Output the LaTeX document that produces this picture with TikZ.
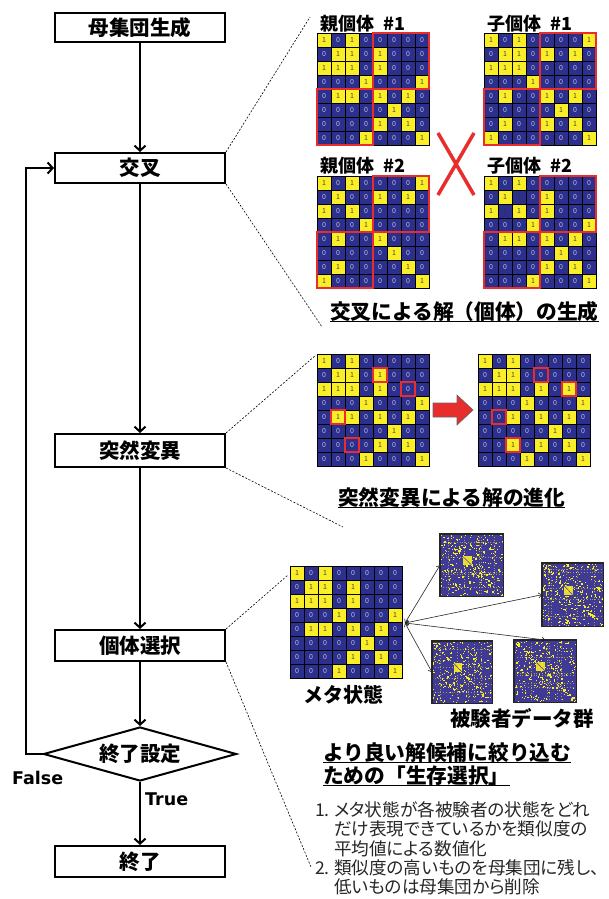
\documentclass[tikz,border=0pt]{standalone}
\usepackage{fontspec}
\setmainfont{Noto Sans CJK JP}
\newfontfamily\listfont{Noto Sans CJK JP}[RawFeature=+palt]
\newfontfamily\latinb{DejaVu Sans}
\usetikzlibrary{arrows.meta,shapes.geometric}
\definecolor{mblue}{RGB}{44,48,140}
\definecolor{sblue}{RGB}{62,58,150}
\definecolor{myel}{RGB}{250,238,40}
\definecolor{mred}{RGB}{232,45,45}
\definecolor{mgray}{RGB}{185,190,225}
\definecolor{mdark}{RGB}{70,70,45}
\tikzset{
  flowbox/.style={draw, line width=2pt, minimum width=170, minimum height=30, inner sep=0pt, fill=white,
    font=\bfseries\fontsize{20.5}{20.5}\selectfont},
  decision/.style={draw, line width=2pt, shape=diamond, aspect=3.5, minimum width=193, minimum height=54,
    inner sep=0pt, fill=white, font=\bfseries\fontsize{20.5}{20.5}\selectfont},
  flowarrow/.style={line width=2pt, -{Straight Barb[length=5pt,width=11pt]}},
  zoomline/.style={line width=0.6pt, dash pattern=on 2pt off 1.6pt},
  cellz/.style={rectangle, draw=black, line width=0.6pt, fill=mblue, minimum size=14, inner sep=0pt,
    text=mgray, font=\fontsize{7}{7}\selectfont},
  cello/.style={cellz, fill=myel, text=mdark},
  cellb/.style={cellz, text=black!80},
  redbox/.style={draw=mred, line width=2pt},
  lab/.style={anchor=base west, inner sep=0pt, font=\bfseries\fontsize{18}{18}\selectfont},
  captxt/.style={anchor=base west, inner sep=0pt, font=\bfseries\fontsize{20.7}{20.7}\selectfont},
  listtxt/.style={anchor=base west, inner sep=0pt, text=black!85, font=\listfont\fontsize{17.6}{17.6}\selectfont},
  metaarrow/.style={line width=0.6pt, black!85, {Straight Barb[length=3pt,width=5pt]}-{Straight Barb[length=3pt,width=5pt]}},
  subjbg/.style={rectangle, fill=sblue, inner sep=0pt, anchor=north west},
  ulinestyle/.style={line width=1.5pt}
}
\newcommand\drawgamat[4]{%
  \foreach \rowlist [count=\rr] in {#4} {%
    \foreach \val [count=\cc] in \rowlist {%
      \pgfmathsetmacro\gx{#2+(\cc-0.5)*14}%
      \pgfmathsetmacro\gy{#3+(\rr-0.5)*14}%
      \ifcase\val\relax
        \node[cellz] (#1-\rr-\cc) at (\gx,\gy) {0};%
      \or
        \node[cello] (#1-\rr-\cc) at (\gx,\gy) {1};%
      \or
        \node[cellb] (#1-\rr-\cc) at (\gx,\gy) {1};%
      \fi
    }%
  }%
}
\newcommand\subjimg[6]{%
  \node[subjbg, minimum width=#4, minimum height=#5] (#1) at (#2,#3) {};
  \begin{scope}
    \clip (#1.north west) rectangle (#1.south east);
    \pgfmathsetseed{#6}
    \foreach \k in {1,...,5}{%
      \pgfmathsetmacro\pp{0.1+0.8*rnd}%
      \draw[myel, opacity=0.55, line width=0.9pt, dash pattern=on 1pt off 1.8pt]
        ({#2+\pp*#4},#3) -- ({#2+\pp*#4},{#3+#5});
      \draw[myel, opacity=0.55, line width=0.9pt, dash pattern=on 1pt off 1.8pt]
        (#2,{#3+\pp*#5}) -- ({#2+#4},{#3+\pp*#5});
    }
    \foreach \k in {1,...,130}{%
      \pgfmathsetmacro\uu{rnd}\pgfmathsetmacro\vv{rnd}%
      \fill[myel] ({#2+\uu*#4},{#3+\vv*#5}) rectangle ++(1.2,1.2);
      \fill[myel] ({#2+\vv*#4},{#3+\uu*#5}) rectangle ++(1.2,1.2);
    }
    \foreach \k in {1,...,45}{%
      \pgfmathsetmacro\uu{rnd}\pgfmathsetmacro\dd{\uu+0.05*(rnd-0.5)}%
      \fill[myel] ({#2+\uu*#4},{#3+\dd*#5}) rectangle ++(1.3,1.3);
    }
    \fill[myel, opacity=0.9] ({#2+0.36*#4},{#3+0.36*#5}) rectangle ({#2+0.5*#4},{#3+0.5*#5});
    \draw[sblue, line width=0.5pt] ({#2+0.36*#4},{#3+0.36*#5}) -- ({#2+0.5*#4},{#3+0.5*#5});
  \end{scope}
  \draw[black!85, line width=1.4pt] (#1.north west) rectangle (#1.south east);
}
\begin{document}
\begin{tikzpicture}[x=1pt,y=-1pt]
\useasboundingbox (0,0) rectangle (609,899);
\fill[white] (0,0) rectangle (609,899);

% ---------------- flowchart ----------------
\node[flowbox, minimum height=29] (gen) at (140,27.5) {母集団生成};
\node[flowbox] (cross) at (140,168) {交叉};
\node[flowbox, minimum height=33] (mut) at (140,450.5) {突然変異};
\node[flowbox, minimum height=31] (sel) at (140,645.5) {個体選択};
\node[decision] (dia) at (140,754) {終了設定};
\node[flowbox, minimum height=31] (fin) at (140,861.5) {終了};
\coordinate (loopc) at (26,754);

\draw[flowarrow] (gen) -- (cross);
\draw[flowarrow] (cross) -- (mut);
\draw[flowarrow] (mut) -- (sel);
\draw[flowarrow] (sel) -- (dia);
\draw[flowarrow] (dia) -- (fin);
\draw[flowarrow] (dia.west) -- (loopc) |- (cross.west);

\node[anchor=base west, inner sep=0pt, font=\latinb\bfseries\fontsize{17.5}{17.5}\selectfont] (lfalse) at (12,784) {False};
\node[anchor=base west, inner sep=0pt, font=\latinb\bfseries\fontsize{17.5}{17.5}\selectfont] (ltrue) at (145,805) {True};

% ---------------- zoom lines ----------------
\coordinate (z1) at (310,17);
\coordinate (z2) at (322,327);
\coordinate (z3) at (316,355);
\coordinate (z4) at (343,527);
\coordinate (z5) at (288,575);
\coordinate (z6) at (311,867);
\draw[zoomline] (cross.north east) -- (z1);
\draw[zoomline] (cross.south east) -- (z2);
\draw[zoomline] (mut.north east) -- (z3);
\draw[zoomline] (mut.south east) -- (z4);
\draw[zoomline] (sel.north east) -- (z5);
\draw[zoomline] (sel.south east) -- (z6);

% ---------------- crossover ----------------
\node[lab] (tp1) at (320,31) {親個体\hspace{0.5em}\#1};
\node[lab] (tc1) at (487,31) {子個体\hspace{0.5em}\#1};
\node[lab] (tp2) at (320,172) {親個体\hspace{0.5em}\#2};
\node[lab] (tc2) at (487,172) {子個体\hspace{0.5em}\#2};

\drawgamat{P1}{317}{33}{{1,0,1,0,0,0,0,0},{0,1,1,0,1,0,0,0},{1,1,1,0,1,0,0,0},{0,0,0,1,0,0,0,1},{0,1,1,0,1,0,1,0},{0,0,0,0,0,1,0,0},{0,0,0,0,1,0,1,0},{0,0,0,1,0,0,0,1}}
\drawgamat{C1}{484}{33}{{1,0,1,0,0,0,0,1},{0,1,1,0,1,0,1,0},{1,1,1,0,0,0,0,0},{0,0,0,1,0,0,0,0},{0,1,0,0,1,0,1,0},{0,0,0,0,0,1,0,0},{0,1,0,0,1,0,1,0},{1,0,0,0,0,0,0,1}}
\drawgamat{P2}{317}{176}{{1,0,1,0,0,0,0,1},{0,1,0,0,1,0,1,0},{1,0,1,0,0,0,0,0},{0,0,0,1,0,0,0,0},{0,1,0,0,1,0,0,0},{0,0,0,0,0,1,0,0},{0,1,0,0,0,0,1,0},{1,0,0,0,0,0,0,1}}
\drawgamat{C2}{484}{176}{{1,0,1,0,0,0,0,0},{0,1,2,0,1,0,0,0},{1,2,1,0,1,0,0,0},{0,0,0,1,0,0,0,1},{0,1,1,0,1,0,1,0},{0,0,0,0,0,1,0,0},{0,0,0,0,1,0,1,0},{0,0,0,1,0,0,0,1}}

\foreach \m in {P1,C1,P2,C2}{
  \draw[redbox] (\m-1-5.north west) rectangle (\m-4-8.south east);
  \draw[redbox] (\m-5-1.north west) rectangle (\m-8-4.south east);
}
\draw[mred, line width=3.5pt] (438,133) -- (474,195);
\draw[mred, line width=3.5pt] (474,133) -- (438,195);

\node[captxt] (cap1) at (330,319) {交叉による解（個体）の生成};
\draw[ulinestyle] ([yshift=-2.5pt]cap1.base west) -- ([yshift=-2.5pt]cap1.base east);

% ---------------- mutation ----------------
\drawgamat{MB}{317}{354}{{1,0,1,0,0,0,0,0},{0,1,1,0,1,0,0,0},{1,1,1,0,1,0,0,0},{0,0,0,1,0,0,0,1},{0,1,1,0,1,0,1,0},{0,0,0,0,0,1,0,0},{0,0,0,0,1,0,1,0},{0,0,0,1,0,0,0,1}}
\drawgamat{MA}{478}{354}{{1,0,1,0,0,0,0,0},{0,1,1,0,0,0,0,0},{1,1,1,0,1,0,1,0},{0,0,0,1,0,0,0,1},{0,0,1,0,1,0,1,0},{0,0,0,0,0,1,0,0},{0,0,1,0,1,0,1,0},{0,0,0,1,0,0,0,1}}
\foreach \m in {MB,MA}{
  \foreach \cl in {2-5,3-7,5-2,7-3}{
    \draw[redbox] (\m-\cl.north west) rectangle (\m-\cl.south east);
  }
}
\filldraw[fill=mred, draw=black!60, line width=0.6pt]
  (433,403) -- (457,403) -- (457,395) -- (473,410) -- (457,425) -- (457,417) -- (433,417) -- cycle;

\node[captxt] (cap2) at (338,505) {突然変異による解の進化};
\draw[ulinestyle] ([yshift=-2.5pt]cap2.base west) -- ([yshift=-2.5pt]cap2.base east);

% ---------------- selection ----------------
\drawgamat{ME}{290}{566}{{1,0,1,0,0,0,0,0},{0,1,1,0,1,0,0,0},{1,1,1,0,1,0,0,0},{0,0,0,1,0,0,0,1},{0,1,1,0,1,0,1,0},{0,0,0,0,0,1,0,0},{0,0,0,0,1,0,1,0},{0,0,0,1,0,0,0,1}}
\node[captxt, font=\bfseries\fontsize{20}{20}\selectfont] (tmeta) at (303,702) {メタ状態};

\subjimg{sA}{440}{534}{63}{62}{11}
\subjimg{sB}{542}{563}{61}{63}{23}
\subjimg{sC}{432}{641}{60}{62}{37}
\subjimg{sD}{514}{640}{62}{62}{41}

\coordinate (mo) at (405,623);
\draw[metaarrow] (mo) -- (sA.west);
\draw[metaarrow] (mo) -- (sB.west);
\draw[metaarrow] (mo) -- (sD.north);
\draw[metaarrow] (mo) -- (sC.west);

\node[captxt, font=\bfseries\fontsize{20.5}{20.5}\selectfont] (tsubj) at (450,726) {被験者データ群};

\node[captxt] (cap3a) at (323,760) {より良い解候補に絞り込む};
\draw[ulinestyle] ([yshift=-2.5pt]cap3a.base west) -- ([yshift=-2.5pt]cap3a.base east);
\node[captxt] (cap3b) at (323,783) {ための「生存選択」};
\draw[ulinestyle] ([yshift=-2.5pt]cap3b.base west) -- ([yshift=-2.5pt]cap3b.base east);

\node[listtxt] (n1) at (315,816) {1.};
\node[listtxt] (l1) at (334,816) {メタ状態が各被験者の状態をどれ};
\node[listtxt] (l2) at (334,835) {だけ表現できているかを類似度の};
\node[listtxt] (l3) at (334,855) {平均値による数値化};
\node[listtxt] (n2) at (315,874) {2.};
\node[listtxt] (l4) at (334,874) {類似度の高いものを母集団に残し、};
\node[listtxt] (l5) at (334,893) {低いものは母集団から削除};
\end{tikzpicture}
\end{document}
